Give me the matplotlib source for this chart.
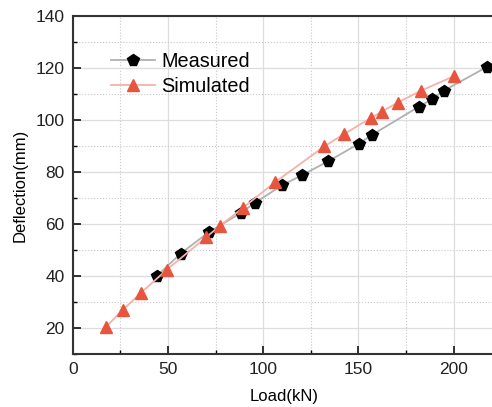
import matplotlib
matplotlib.use("Agg")
import matplotlib.pyplot as plt
from matplotlib.ticker import MultipleLocator

plt.rcParams['font.family'] = ['Liberation Sans', 'DejaVu Sans']

meas_load = [44.1, 56.6, 71.3, 88.1, 95.6, 110.1, 120.3, 134.3, 150.4, 157.0, 181.6, 188.9, 195.0, 217.6]
meas_defl = [40.0, 48.6, 56.8, 64.2, 68.1, 75.0, 78.7, 84.2, 90.9, 94.2, 105.0, 108.1, 111.3, 120.4]

sim_load = [17.3, 26.4, 35.7, 49.5, 70.2, 77.4, 89.5, 106.1, 132.2, 142.3, 156.7, 162.3, 170.7, 182.8, 200.1]
sim_defl = [20.4, 27.1, 33.5, 42.5, 55.0, 59.4, 66.3, 76.0, 89.9, 94.5, 100.8, 103.2, 106.7, 111.2, 116.8]

fig = plt.figure(figsize=(4.92, 4.07), dpi=100)
ax = fig.add_axes([0.148, 0.130, 0.859, 0.831])

ax.plot(meas_load, meas_defl, color='#b0b0b0', lw=1.3, marker='p', ms=8.5,
        mfc='black', mec='black', label='Measured', zorder=3)
ax.plot(sim_load, sim_defl, color='#f7b0aa', lw=1.3, marker='^', ms=8.5,
        mfc='#e8553f', mec='#e8553f', label='Simulated', zorder=3)

ax.set_xlim(0, 222)
ax.set_ylim(10, 140)
ax.xaxis.set_major_locator(MultipleLocator(50))
ax.xaxis.set_minor_locator(MultipleLocator(25))
ax.yaxis.set_major_locator(MultipleLocator(20))
ax.yaxis.set_minor_locator(MultipleLocator(10))
ax.set_yticks([20, 40, 60, 80, 100, 120, 140])

ax.grid(True, which='major', color='#dddddd', lw=0.9, ls='-')
ax.grid(True, which='minor', color='#c8c8c8', lw=0.8, ls=':')
ax.set_axisbelow(True)

ax.tick_params(which='major', direction='in', length=6, width=1.3, labelsize=12.5, colors='#222222', pad=6)
ax.tick_params(which='minor', direction='in', length=3, width=1.0)
ax.tick_params(top=False, right=False)
for s in ax.spines.values():
    s.set_linewidth(1.5)
    s.set_color('#333333')

ax.set_xlabel('Load(kN)', fontsize=12, labelpad=8)
ax.set_ylabel('Deflection(mm)', fontsize=12, labelpad=6)

ax.legend(loc='upper left', bbox_to_anchor=(0.048, 0.946), frameon=False, fontsize=14.3,
          handlelength=2.2, handletextpad=0.35, labelspacing=0.3)

fig.savefig('out.png', dpi=100)
